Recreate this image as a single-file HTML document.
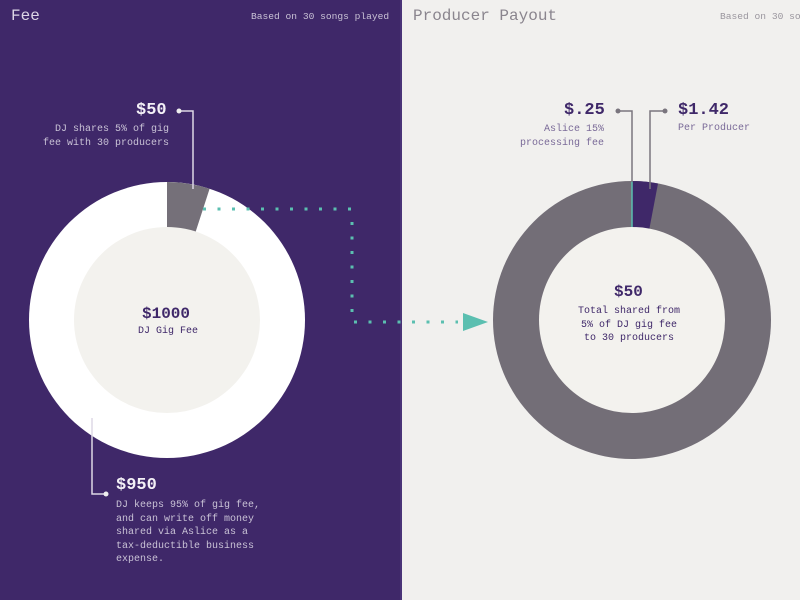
<!DOCTYPE html>
<html><head><style>
html,body{margin:0;width:800px;height:600px;overflow:hidden;font-family:"Liberation Mono",monospace;}
.l{position:absolute;left:0;top:0;width:400px;height:600px;background:#3f2869;}
.r{position:absolute;left:402px;top:0;width:398px;height:600px;background:#f1f0ee;overflow:hidden;}
.sep{position:absolute;left:400px;top:0;width:2px;height:600px;background:#4a3478;}
.t{position:absolute;white-space:pre;}
</style></head><body>
<div class="l"></div><div class="r"></div><div class="sep"></div>
<svg width="800" height="600" style="position:absolute;left:0;top:0">
<circle cx="167" cy="320" r="138" fill="#ffffff"/>
<path d="M167 320 L167 182 A138 138 0 0 1 209.6 188.8 Z" fill="#757079"/>
<circle cx="167" cy="320" r="93" fill="#f3f2ee"/>
<circle cx="632" cy="320" r="139" fill="#736e77"/>
<path d="M632 320 L632 181 A139 139 0 0 1 658 183.5 Z" fill="#3f2869"/>
<line x1="632" y1="181" x2="632" y2="228" stroke="#5bbfb0" stroke-width="1.5"/>
<circle cx="632" cy="320" r="93" fill="#f3f2ee"/>
<g stroke="#5bbfb0" stroke-width="3" stroke-dasharray="3 11.5" fill="none">
<line x1="203" y1="209" x2="352" y2="209"/>
<line x1="352" y1="222" x2="352" y2="322"/>
<line x1="354" y1="322" x2="458" y2="322"/>
</g>
<polygon points="463,313 463,331 488,322" fill="#5bbfb0"/>
<g stroke="#ddd8e6" stroke-width="1.5" fill="none">
<polyline points="179,111 193,111 193,189"/>
<polyline points="92,418 92,494 106,494"/>
</g>
<circle cx="179" cy="111" r="2.5" fill="#eee"/>
<circle cx="106" cy="494" r="2.5" fill="#eee"/>
<g stroke="#7a757e" stroke-width="1.5" fill="none">
<polyline points="618,111 632,111 632,182"/>
<polyline points="665,111 650,111 650,189"/>
</g>
<circle cx="618" cy="111" r="2.5" fill="#7a757e"/>
<circle cx="665" cy="111" r="2.5" fill="#7a757e"/>
</svg>
<div class="t" style="left:11px;top:7px;font-size:16px;color:#ddd6e6">Fee</div>
<div class="t" style="left:251px;top:11px;font-size:9.6px;color:#c9c2d6">Based on 30 songs played</div>
<div class="t" style="left:136px;top:101px;font-size:17px;font-weight:bold;color:#f3f0f6">$50</div>
<div class="t" style="left:43px;top:123px;font-size:10px;line-height:14px;color:#c9c2d6;text-align:right">DJ shares 5% of gig
fee with 30 producers</div>
<div class="t" style="left:142px;top:305px;font-size:16px;font-weight:bold;color:#3f2869">$1000</div>
<div class="t" style="left:138px;top:326px;font-size:10px;color:#3f2869">DJ Gig Fee</div>
<div class="t" style="left:116px;top:476px;font-size:17px;font-weight:bold;color:#f3f0f6">$950</div>
<div class="t" style="left:116px;top:499px;font-size:10px;line-height:13.5px;color:#c9c2d6">DJ keeps 95% of gig fee,
and can write off money
shared via Aslice as a
tax-deductible business
expense.</div>
<div style="position:absolute;left:402px;top:0;width:398px;height:600px;overflow:hidden">
<div class="t" style="left:11px;top:7px;font-size:16px;color:#8a858e">Producer Payout</div>
<div class="t" style="left:318px;top:11px;font-size:9.6px;color:#9a969e">Based on 30 songs played</div>
<div class="t" style="left:162px;top:101px;font-size:17px;font-weight:bold;color:#3f2869">$.25</div>
<div class="t" style="left:118px;top:123px;font-size:10px;line-height:14px;color:#7a6a98;text-align:right">   Aslice 15%
processing fee</div>
<div class="t" style="left:276px;top:101px;font-size:17px;font-weight:bold;color:#3f2869">$1.42</div>
<div class="t" style="left:276px;top:123px;font-size:10px;color:#7a6a98">Per Producer</div>
<div class="t" style="left:212px;top:283px;font-size:16px;font-weight:bold;color:#3f2869">$50</div>
<div class="t" style="left:176px;top:305px;font-size:10px;line-height:13.5px;color:#3f2869;text-align:center">Total shared from
5% of DJ gig fee
to 30 producers</div>
</div>
</body></html>
